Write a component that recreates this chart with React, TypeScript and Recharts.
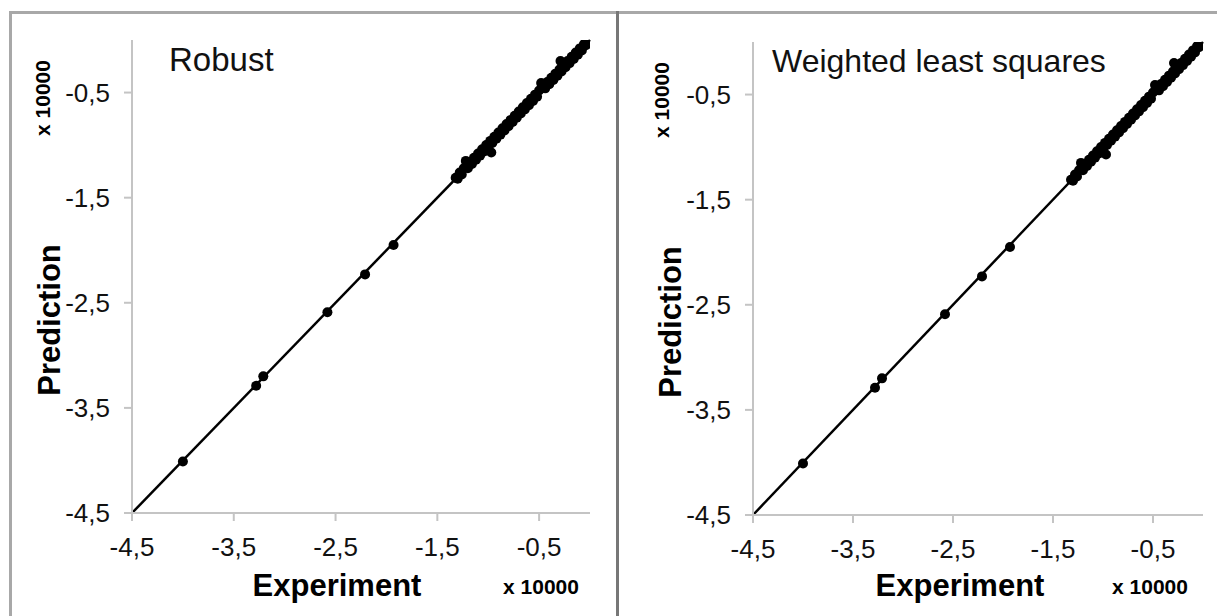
import { ReferenceLine, Scatter, ScatterChart, XAxis, YAxis } from "recharts";

// values in units of 10000
const experiment = [
  -4.0, -3.28, -3.21, -2.58, -2.21, -1.93,
  -1.32, -1.3, -1.28, -1.26, -1.24, -1.22, -1.2, -1.18, -1.16, -1.14, -1.12, -1.1, -1.08, -1.06,
  -1.04, -1.02, -1.0, -0.98, -0.97,
  -0.96, -0.94, -0.92, -0.9, -0.88, -0.86, -0.84, -0.82, -0.8, -0.78, -0.76, -0.74, -0.72, -0.7,
  -0.68, -0.66, -0.64, -0.62, -0.6, -0.58, -0.56, -0.54, -0.52, -0.5, -0.48, -0.46, -0.44, -0.42,
  -0.4, -0.38, -0.36, -0.34, -0.32, -0.3, -0.29,
  -0.28, -0.26, -0.24, -0.22, -0.2, -0.18, -0.16, -0.14, -0.12, -0.1, -0.08, -0.06, -0.04, -0.02,
];
const prediction = [
  -4.01, -3.29, -3.2, -2.59, -2.23, -1.95,
  -1.31, -1.32, -1.26, -1.28, -1.22, -1.15, -1.22, -1.16, -1.18, -1.12, -1.14, -1.08, -1.1, -1.04,
  -1.06, -1.0, -1.02, -0.96, -1.07,
  -0.98, -0.92, -0.94, -0.88, -0.9, -0.84, -0.86, -0.8, -0.82, -0.76, -0.78, -0.72, -0.74, -0.68,
  -0.7, -0.64, -0.66, -0.6, -0.62, -0.56, -0.58, -0.52, -0.54, -0.48, -0.41, -0.44, -0.46, -0.4,
  -0.42, -0.36, -0.38, -0.32, -0.34, -0.28, -0.2,
  -0.3, -0.24, -0.26, -0.2, -0.22, -0.16, -0.18, -0.12, -0.14, -0.08, -0.1, -0.04, -0.05, -0.02,
];
const axisTicks = [-4.5, -3.5, -2.5, -1.5, -0.5];
const axisDomain = [-4.5, 0];
const panelTitles = ["Robust", "Weighted least squares"];

const points = experiment.map((x, i) => ({ x, y: prediction[i] }));

const FONT = "'Liberation Sans', Arial, sans-serif";
const AXIS_GREY = "#c4c4c4";
const fmt = (v: number) => String(v).replace(".", ",");

function Dot(props: any) {
  if (props.cx == null || props.cy == null) return null;
  return <circle cx={props.cx} cy={props.cy} r={5} fill="#000" />;
}

function XTick({ x, y, payload }: any) {
  return (
    <text x={x} y={y} dy="0.71em" textAnchor="middle" fontSize={26} fontFamily={FONT} fill="#111">
      {fmt(payload.value)}
    </text>
  );
}

function YTick({ x, y, payload }: any) {
  return (
    <text x={x} y={y} dy="0.36em" textAnchor="end" fontSize={26} fontFamily={FONT} fill="#111">
      {fmt(payload.value)}
    </text>
  );
}

function Panel({ margin, width }: { margin: any; width: number }) {
  return (
    <ScatterChart width={width} height={616} margin={margin}>
      <XAxis
        type="number"
        dataKey="x"
        domain={axisDomain}
        ticks={axisTicks}
        height={40}
        tickSize={8}
        tickMargin={17}
        axisLine={{ stroke: AXIS_GREY, strokeWidth: 2 }}
        tickLine={{ stroke: AXIS_GREY, strokeWidth: 2 }}
        tick={<XTick />}
        allowDataOverflow
      />
      <YAxis
        type="number"
        dataKey="y"
        domain={axisDomain}
        ticks={axisTicks}
        width={80}
        tickSize={8}
        tickMargin={14}
        axisLine={{ stroke: AXIS_GREY, strokeWidth: 2 }}
        tickLine={{ stroke: AXIS_GREY, strokeWidth: 2 }}
        tick={<YTick />}
        allowDataOverflow
      />
      <ReferenceLine
        segment={[
          { x: -4.5, y: -4.5 },
          { x: 0, y: 0 },
        ]}
        stroke="#000"
        strokeWidth={2.5}
        ifOverflow="visible"
      />
      <Scatter data={points} shape={<Dot />} isAnimationActive={false} />
    </ScatterChart>
  );
}

export default function App() {
  const bold = { fontFamily: FONT, fontWeight: 700, fill: "#000" } as const;
  return (
    <div style={{ position: "absolute", left: 0, top: 0, width: 1217, height: 616, background: "#fff", overflow: "hidden" }}>
      {/* frame */}
      <div style={{ position: "absolute", left: 9, top: 11, width: 1208, height: 0, borderTop: "3px solid #a8a8a8" }} />
      <div style={{ position: "absolute", left: 9, top: 11, width: 0, height: 605, borderLeft: "3px solid #a8a8a8" }} />
      <div style={{ position: "absolute", left: 616, top: 11, width: 0, height: 605, borderLeft: "3px solid #777" }} />

      <div style={{ position: "absolute", left: 0, top: 0 }}>
        <Panel width={610} margin={{ top: 40, right: 20, bottom: 63, left: 52 }} />
      </div>
      <div style={{ position: "absolute", left: 612, top: 0 }}>
        <Panel width={605} margin={{ top: 42, right: 14, bottom: 61, left: 61 }} />
      </div>

      <svg width={1217} height={616} style={{ position: "absolute", left: 0, top: 0, pointerEvents: "none" }}>
        <text x={169} y={71} fontSize={33} fontFamily={FONT} fill="#111">{panelTitles[0]}</text>
        <text x={772} y={72} fontSize={32} fontFamily={FONT} fill="#111">{panelTitles[1]}</text>

        <text x={337} y={596} fontSize={31} textAnchor="middle" {...bold}>Experiment</text>
        <text x={960} y={596} fontSize={31} textAnchor="middle" {...bold}>Experiment</text>
        <text x={541} y={594} fontSize={21} textAnchor="middle" {...bold}>x 10000</text>
        <text x={1150} y={594} fontSize={21} textAnchor="middle" {...bold}>x 10000</text>

        <text x={49} y={320} fontSize={31} textAnchor="middle" dominantBaseline="central" transform="rotate(-90 49 320)" {...bold}>Prediction</text>
        <text x={670} y={322} fontSize={31} textAnchor="middle" dominantBaseline="central" transform="rotate(-90 670 322)" {...bold}>Prediction</text>
        <text x={42} y={98} fontSize={21} textAnchor="middle" dominantBaseline="central" transform="rotate(-90 42 98)" {...bold}>x 10000</text>
        <text x={661} y={100} fontSize={21} textAnchor="middle" dominantBaseline="central" transform="rotate(-90 661 100)" {...bold}>x 10000</text>
      </svg>
    </div>
  );
}
